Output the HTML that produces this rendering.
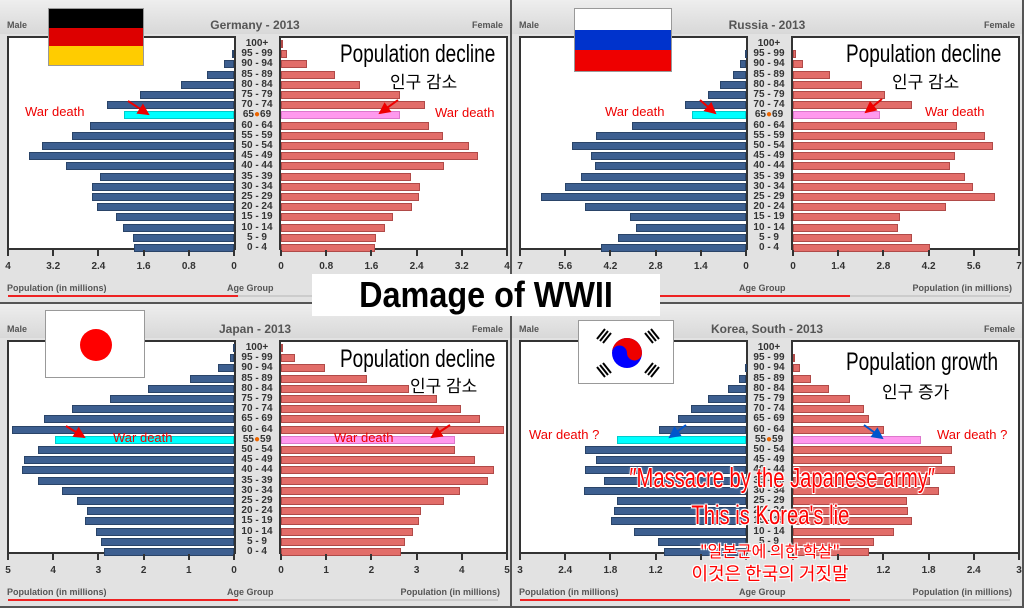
<!DOCTYPE html><html><head><meta charset="utf-8"><style>
*{margin:0;padding:0;box-sizing:border-box}
body{width:1024px;height:608px;background:#555;position:relative;overflow:hidden;font-family:"Liberation Sans","Noto Sans CJK KR",sans-serif}
.p{position:absolute;width:510px;height:302px;background:#e2e2e2;overflow:hidden}
.hd{position:absolute;left:0;top:0;width:510px;height:34px;background:linear-gradient(#eee,#d8d8d8)}
.t{position:absolute;top:18px;font-size:12px;color:#555;font-weight:bold}
.plot{position:absolute;top:36px;height:214px;background:#fff;border:2px solid #333}
.bar{position:absolute;height:8px}
.m{background:#3d5f90;border:1px solid #2a4468}
.f{background:#e26d69;border:1px solid #b04a48}
.lab{position:absolute;font-size:10px;font-weight:bold;color:#333;width:46px;text-align:center;line-height:10px}
.tk{position:absolute;top:261px;font-size:10px;font-weight:bold;color:#333;transform:translateX(-50%)}
.tm{position:absolute;top:250px;width:2px;height:6px;background:#333}
.bt{position:absolute;top:283px;font-size:9px;font-weight:bold;color:#555}
.red{position:absolute;font-size:13px;color:#e00}
.big{position:absolute;white-space:nowrap;font-size:25px;color:#000;transform:scaleX(0.76);transform-origin:left top;text-shadow:0 0 3px #fff,0 0 3px #fff}
.kr{position:absolute;font-size:17px;color:#000;white-space:nowrap}
.ov{position:absolute;white-space:nowrap;color:#f00;text-align:center;width:400px;left:570px;text-shadow:1px 1px 0 #fff,-1px -1px 0 #fff,1px -1px 0 #fff,-1px 1px 0 #fff,0 0 3px #fff}
</style></head><body>
<div id="root"></div>
<script>
const ages=["100+","95 - 99","90 - 94","85 - 89","80 - 84","75 - 79","70 - 74","65 - 69","60 - 64","55 - 59","50 - 54","45 - 49","40 - 44","35 - 39","30 - 34","25 - 29","20 - 24","15 - 19","10 - 14","5 - 9","0 - 4"];
const P=[
{x:0,y:0,title:"Germany - 2013",hi:7,ticks:["4","3.2","2.4","1.6","0.8","0"],
 m:[0,2,10,27,53,94,127,110,144,162,192,205,168,134,142,142,137,118,111,101,100],
 f:[2,6,26,54,79,119,144,119,148,162,188,197,163,130,139,138,131,112,104,95,94],bl:"Population (in millions)",br:""},
{x:512,y:0,title:"Russia - 2013",hi:7,ticks:["7","5.6","4.2","2.8","1.4","0"],
 m:[0,1,6,13,26,38,61,54,114,150,174,155,151,165,181,205,161,116,110,128,145],
 f:[0,3,10,37,69,92,119,87,164,192,200,162,157,172,180,202,153,107,105,119,137],bl:"Population (in millions)",br:"Population (in millions)"},
{x:0,y:304,title:"Japan - 2013",hi:9,ticks:["5","4","3","2","1","0"],
 m:[1,4,16,44,86,124,162,190,222,179,196,210,212,196,172,157,147,149,138,133,130],
 f:[2,14,44,86,128,156,180,199,223,174,174,194,213,207,179,163,140,138,132,124,120],bl:"Population (in millions)",br:"Population (in millions)"},
{x:512,y:304,title:"Korea, South - 2013",hi:9,ticks:["3","2.4","1.8","1.2","",""],
 m:[0,0,1,7,18,38,55,68,87,129,161,150,161,142,162,129,132,135,112,88,82],
 f:[0,1,7,18,36,57,71,76,91,128,159,149,162,137,146,114,115,119,101,81,76],bl:"Population (in millions)",br:"Population (in millions)"}];
let h="";
P.forEach(p=>{
 h+=`<div class="p" style="left:${p.x}px;top:${p.y}px"><div class="hd"></div>
 <div class="t" style="left:7px;font-size:9px;top:20px">Male</div><div class="t" style="right:7px;font-size:9px;top:20px">Female</div>
 <div class="t" style="left:0;width:510px;text-align:center">${p.title}</div>
 <div class="plot" style="left:7px;width:229px"></div><div class="plot" style="left:279px;width:229px"></div>`;
 ages.forEach((a,r)=>{const y=40+r*10.2;
  const hl=r==p.hi;
  if(p.m[r])h+=`<div class="bar m" style="left:${234-p.m[r]}px;top:${y}px;width:${p.m[r]}px;${hl?'background:#0ff;border-color:#0cc':''}"></div>`;
  if(p.f[r])h+=`<div class="bar f" style="left:281px;top:${y}px;width:${p.f[r]}px;${hl?'background:#f9e;border-color:#d7c':''}"></div>`;
  let t=a;if(hl){const s=a.split(" - ");t=`${s[0]}<span style="color:#e60">●</span>${s[1]}`}
  h+=`<div class="lab" style="left:234px;top:${y-1}px">${t}</div>`;
 });
 p.ticks.forEach((t,i)=>{const xl=8+i*45.2,xr=281+(5-i)*45.2;
  h+=`<div class="tm" style="left:${xl-1}px"></div><div class="tm" style="left:${xr-1}px"></div>`;
  h+=`<div class="tk" style="left:${xl}px">${t}</div><div class="tk" style="left:${xr}px">${t}</div>`;});
 h+=`<div class="bt" style="left:7px">${p.bl}</div><div class="bt" style="left:227px">Age Group</div><div class="bt" style="right:10px">${p.br}</div>
 <div style="position:absolute;left:8px;top:295px;width:${p.x?330:230}px;height:2px;background:#e22"></div><div style="position:absolute;left:${p.x?338:238}px;top:295px;width:${p.x?160:260}px;height:2px;background:#ccc"></div></div>`;
});
document.getElementById('root').innerHTML=h;
</script>
<div style="position:absolute;left:48px;top:8px;width:96px;height:58px;border:1px solid #999"><div style="height:33.3%;background:#000"></div><div style="height:33.3%;background:#d00"></div><div style="height:33.4%;background:#fc0"></div></div>
<div style="position:absolute;left:574px;top:8px;width:98px;height:64px;border:1px solid #999"><div style="height:33.3%;background:#fff"></div><div style="height:33.3%;background:#0033cc"></div><div style="height:33.4%;background:#e00"></div></div>
<div style="position:absolute;left:45px;top:310px;width:100px;height:68px;background:#fff;border:1px solid #999"><div style="position:absolute;left:34px;top:18px;width:32px;height:32px;border-radius:50%;background:#f00"></div></div>
<div style="position:absolute;left:578px;top:320px;width:96px;height:64px;background:#fff;border:1px solid #999">
<svg width="96" height="64"><circle cx="48" cy="32" r="15" fill="#00f"/><path d="M33 32a15 15 0 0 1 30 0a7.5 7.5 0 0 1-15 0a7.5 7.5 0 0 0-15 0z" fill="#e00"/>
<g stroke="#000" stroke-width="2"><path d="M18 18l8-10M21 20l8-10M24 22l8-10"/><path d="M66 12l8 10M69 10l8 10M72 8l8 10"/><path d="M18 46l8 10M21 44l8 10M24 42l8 10"/><path d="M66 52l8-10M69 54l8-10M72 56l8-10"/></g></svg></div>
<div class="big" style="left:340px;top:40px">Population decline</div><div class="kr" style="left:390px;top:68px">인구 감소</div>
<div class="big" style="left:846px;top:40px">Population decline</div><div class="kr" style="left:892px;top:68px">인구 감소</div>
<div class="big" style="left:340px;top:345px">Population decline</div><div class="kr" style="left:410px;top:372px">인구 감소</div>
<div class="big" style="left:846px;top:348px">Population growth</div><div class="kr" style="left:882px;top:378px">인구 증가</div>
<div class="red" style="left:25px;top:104px">War death</div><div class="red" style="left:435px;top:105px">War death</div>
<div class="red" style="left:605px;top:104px">War death</div><div class="red" style="left:925px;top:104px">War death</div>
<div class="red" style="left:113px;top:430px">War death</div><div class="red" style="left:334px;top:430px">War death</div>
<div class="red" style="left:529px;top:427px">War death ?</div><div class="red" style="left:937px;top:427px">War death ?</div>
<svg style="position:absolute;left:0;top:0" width="1024" height="608">
<defs><marker id="ar" markerWidth="6" markerHeight="6" refX="5" refY="3" orient="auto"><path d="M0 0L6 3L0 6z" fill="#e00"/></marker>
<marker id="ab" markerWidth="6" markerHeight="6" refX="5" refY="3" orient="auto"><path d="M0 0L6 3L0 6z" fill="#05c"/></marker></defs>
<g stroke="#e00" stroke-width="2" marker-end="url(#ar)"><line x1="128" y1="101" x2="148" y2="114"/><line x1="398" y1="100" x2="380" y2="113"/>
<line x1="700" y1="100" x2="715" y2="113"/><line x1="882" y1="99" x2="866" y2="112"/>
<line x1="66" y1="426" x2="84" y2="437"/><line x1="450" y1="425" x2="432" y2="437"/></g>
<g stroke="#05c" stroke-width="2" marker-end="url(#ab)"><line x1="686" y1="425" x2="670" y2="437"/><line x1="864" y1="425" x2="882" y2="438"/></g>
</svg>
<div style="position:absolute;left:312px;top:274px;width:348px;height:42px;background:#fff;text-align:center;font-size:36px;font-weight:bold;color:#000;line-height:42px;white-space:nowrap"><span style="display:inline-block;transform:scaleX(0.9)">Damage of WWII</span></div>
<div class="ov" style="top:462px;font-size:28px"><span style="display:inline-block;transform:scaleX(0.72)">″Massacre by the Japanese army″</span></div>
<div class="ov" style="top:500px;font-size:27px"><span style="display:inline-block;transform:scaleX(0.75)">This is Korea's lie</span></div>
<div class="ov" style="top:538px;font-size:16px;font-family:'Noto Sans CJK KR',sans-serif">"일본군에 의한 학살"</div>
<div class="ov" style="top:560px;font-size:18px;font-family:'Noto Sans CJK KR',sans-serif">이것은 한국의 거짓말</div>
</body></html>
